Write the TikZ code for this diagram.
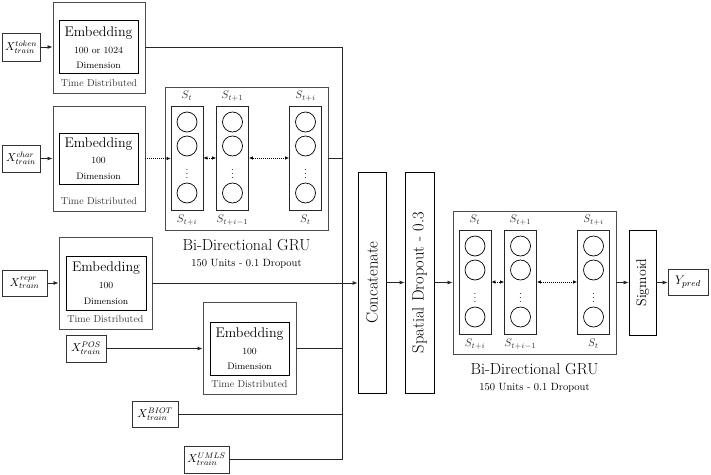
\RequirePackage{fix-cm}
\documentclass[tikz,border=0pt]{standalone}
\usepackage{fontspec}
\usetikzlibrary{arrows.meta}
\newcommand\fsz[1]{\fontsize{#1}{#1}\selectfont}
\newcommand\grublock[3]{%
\begin{scope}[shift={(#2,#3)}]
 \node[outerbox,minimum width=163,minimum height=143] (#1o) at (81.5,71.5) {};
 \node[colbox] (#1c1) at (22,71) {};
 \node[colbox] (#1c2) at (67.5,71) {};
 \node[colbox] (#1c3) at (140.5,71) {};
 \foreach \cx/\k in {22/1,67.5/2,140.5/3}{
  \node[cell] (#1a\k) at (\cx,35) {};
  \node[cell] (#1b\k) at (\cx,59) {};
  \node[cell] (#1d\k) at (\cx,106) {};
  \node[font=\fsz{10}] (#1v\k) at (\cx,84) {$\vdots$};
 }
 \node[slab] (#1t1) at (22,9) {$S_t$};
 \node[slab] (#1t2) at (67.5,9) {$S_{t+1}$};
 \node[slab] (#1t3) at (140.5,9) {$S_{t+i}$};
 \node[slab] (#1u1) at (22,133) {$S_{t+i}$};
 \node[slab] (#1u2) at (67.5,133) {$S_{t+i-1}$};
 \node[slab] (#1u3) at (140.5,133) {$S_t$};
 \draw[darr] (#1c1.east) -- (#1c2.west);
 \draw[darr] (#1c2.east) -- (#1c3.west);
 \node[font=\fsz{16}] (#1n) at (81.5,158) {Bi-Directional GRU};
 \node[font=\fsz{10.5}] (#1m) at (81.5,177) {150 Units - 0.1 Dropout};
\end{scope}}
\begin{document}
\begin{tikzpicture}[x=1pt,y=-1pt,
 outerbox/.style={draw=black!70,line width=0.9pt,inner sep=0pt},
 innerbox/.style={draw=black,line width=0.8pt,inner sep=0pt},
 inbox/.style={draw=black!80,line width=0.8pt,inner sep=0pt,font=\fsz{11.5}},
 colbox/.style={draw=black!85,line width=0.8pt,minimum width=32,minimum height=104,inner sep=0pt},
 cell/.style={circle,draw=black,line width=0.7pt,minimum size=20,inner sep=0pt},
 slab/.style={font=\fsz{11},text=black!80,inner sep=0pt},
 embt/.style={font=\fsz{14},inner sep=0pt},
 dimt/.style={font=\fsz{9.4},inner sep=0pt},
 tdt/.style={font=\fsz{10},text=black!80,inner sep=0pt},
 conn/.style={line width=0.8pt,draw=black!85},
 arr/.style={conn,-{Latex[length=5pt,width=4pt]}},
 darr/.style={line width=0.7pt,{Latex[length=4pt,width=3.5pt]}-{Latex[length=4pt,width=3.5pt]},dash pattern=on 1pt off 1pt},
 sarr/.style={line width=0.7pt,-{Latex[length=4pt,width=3.5pt]},dash pattern=on 1pt off 1pt},
 vbox/.style={draw=black,line width=0.8pt,inner sep=0pt}
]
\useasboundingbox (0,0) rectangle (711,474);

% token embedding
\node[outerbox,minimum width=92,minimum height=91] (tokO) at (99,47.5) {};
\node[innerbox,minimum width=79,minimum height=53] (tokI) at (98.5,46.5) {};
\node[embt] (tokE) at ([yshift=13.5pt]tokI.center) {Embedding};
\node[dimt] (tokD1) at ([yshift=-3.5pt]tokI.center) {100 or 1024};
\node[dimt] (tokD2) at ([yshift=-18.5pt]tokI.center) {Dimension};
\node[tdt] (tokT) at ([yshift=10pt]tokO.south) {Time Distributed};

% char embedding
\node[outerbox,minimum width=92,minimum height=105] (charO) at (99,158.5) {};
\node[innerbox,minimum width=79,minimum height=51] (charI) at (98.5,158.5) {};
\node[embt] (charE) at ([yshift=14.5pt]charI.center) {Embedding};
\node[dimt] (charD1) at ([yshift=-1.5pt]charI.center) {100};
\node[dimt] (charD2) at ([yshift=-17.5pt]charI.center) {Dimension};
\node[tdt] (charT) at ([yshift=10pt]charO.south) {Time Distributed};

% repr embedding
\node[outerbox,minimum width=93,minimum height=92] (reprO) at (105.5,283) {};
\node[innerbox,minimum width=80,minimum height=54] (reprI) at (106,283) {};
\node[embt] (reprE) at ([yshift=15pt]reprI.center) {Embedding};
\node[dimt] (reprD1) at ([yshift=-2pt]reprI.center) {100};
\node[dimt] (reprD2) at ([yshift=-18pt]reprI.center) {Dimension};
\node[tdt] (reprT) at ([yshift=10pt]reprO.south) {Time Distributed};

% POS embedding
\node[outerbox,minimum width=93,minimum height=92] (posO) at (249.5,348) {};
\node[innerbox,minimum width=79,minimum height=53] (posI) at (249.5,348.5) {};
\node[embt] (posE) at ([yshift=14.5pt]posI.center) {Embedding};
\node[dimt] (posD1) at ([yshift=-2.5pt]posI.center) {100};
\node[dimt] (posD2) at ([yshift=-17.5pt]posI.center) {Dimension};
\node[tdt] (posT) at ([yshift=10pt]posO.south) {Time Distributed};

% inputs
\node[inbox,minimum width=38,minimum height=28] (xtok) at (21,47) {$X^{token}_{train}$};
\node[inbox,minimum width=38,minimum height=27] (xchar) at (21,158.5) {$X^{char}_{train}$};
\node[inbox,minimum width=45,minimum height=26] (xrepr) at (24.5,283) {$X^{repr}_{train}$};
\node[inbox,minimum width=40,minimum height=27] (xpos) at (86,348.5) {$X^{POS}_{train}$};
\node[inbox,minimum width=46,minimum height=26] (xbiot) at (155,414) {$X^{BIOT}_{train}$};
\node[inbox,minimum width=45,minimum height=27] (xumls) at (206.5,459.5) {$X^{UMLS}_{train}$};

% GRU blocks
\grublock{ga}{165}{87}
\grublock{gb}{453}{211}

% vertical layers
\node[vbox,minimum width=28,minimum height=221] (concat) at (372,282.5) {};
\node[font=\fsz{16.5},rotate=90,inner sep=0pt] (concatT) at (concat.center) {Concatenate};
\node[vbox,minimum width=29,minimum height=221] (spat) at (419.5,282.5) {};
\node[font=\fsz{16.5},rotate=90,inner sep=0pt] (spatT) at (spat.center) {Spatial Dropout - 0.3};
\node[vbox,minimum width=27,minimum height=105] (sig) at (642.5,282.5) {};
\node[font=\fsz{14},rotate=90,inner sep=0pt] (sigT) at (sig.center) {Sigmoid};
\node[inbox,font=\fsz{12.5},minimum width=40,minimum height=26] (ypred) at (688,282.5) {$Y_{pred}$};

% bus
\coordinate (busT) at (342,47.5);
\coordinate (busB) at (342,459.5);

% connectors
\draw[arr] (xtok.east) -- (xtok.east -| tokO.west);
\draw[arr] (xchar.east) -- (xchar.east -| charO.west);
\draw[arr] (xrepr.east) -- (xrepr.east -| reprO.west);
\draw[arr] (xpos.east) -- (xpos.east -| posO.west);
\draw[sarr] (charO.east) -- (charO.east -| gac1.west);
\draw[conn] (tokO.east) -| (busB) -- (xumls.east);
\draw[conn] (gao.east) -- (gao.east -| busT);
\draw[conn] (posO.east) -- (posO.east -| busT);
\draw[conn] (xbiot.east) -- (xbiot.east -| busT);
\draw[arr] (reprO.east) -- (reprO.east -| concat.west);
\draw[arr] (concat.east) -- (spat.west);
\draw[arr] (spat.east) -- (gbo.west);
\draw[arr] (gbo.east) -- (sig.west);
\draw[arr] (sig.east) -- (ypred.west);
\end{tikzpicture}
\end{document}
